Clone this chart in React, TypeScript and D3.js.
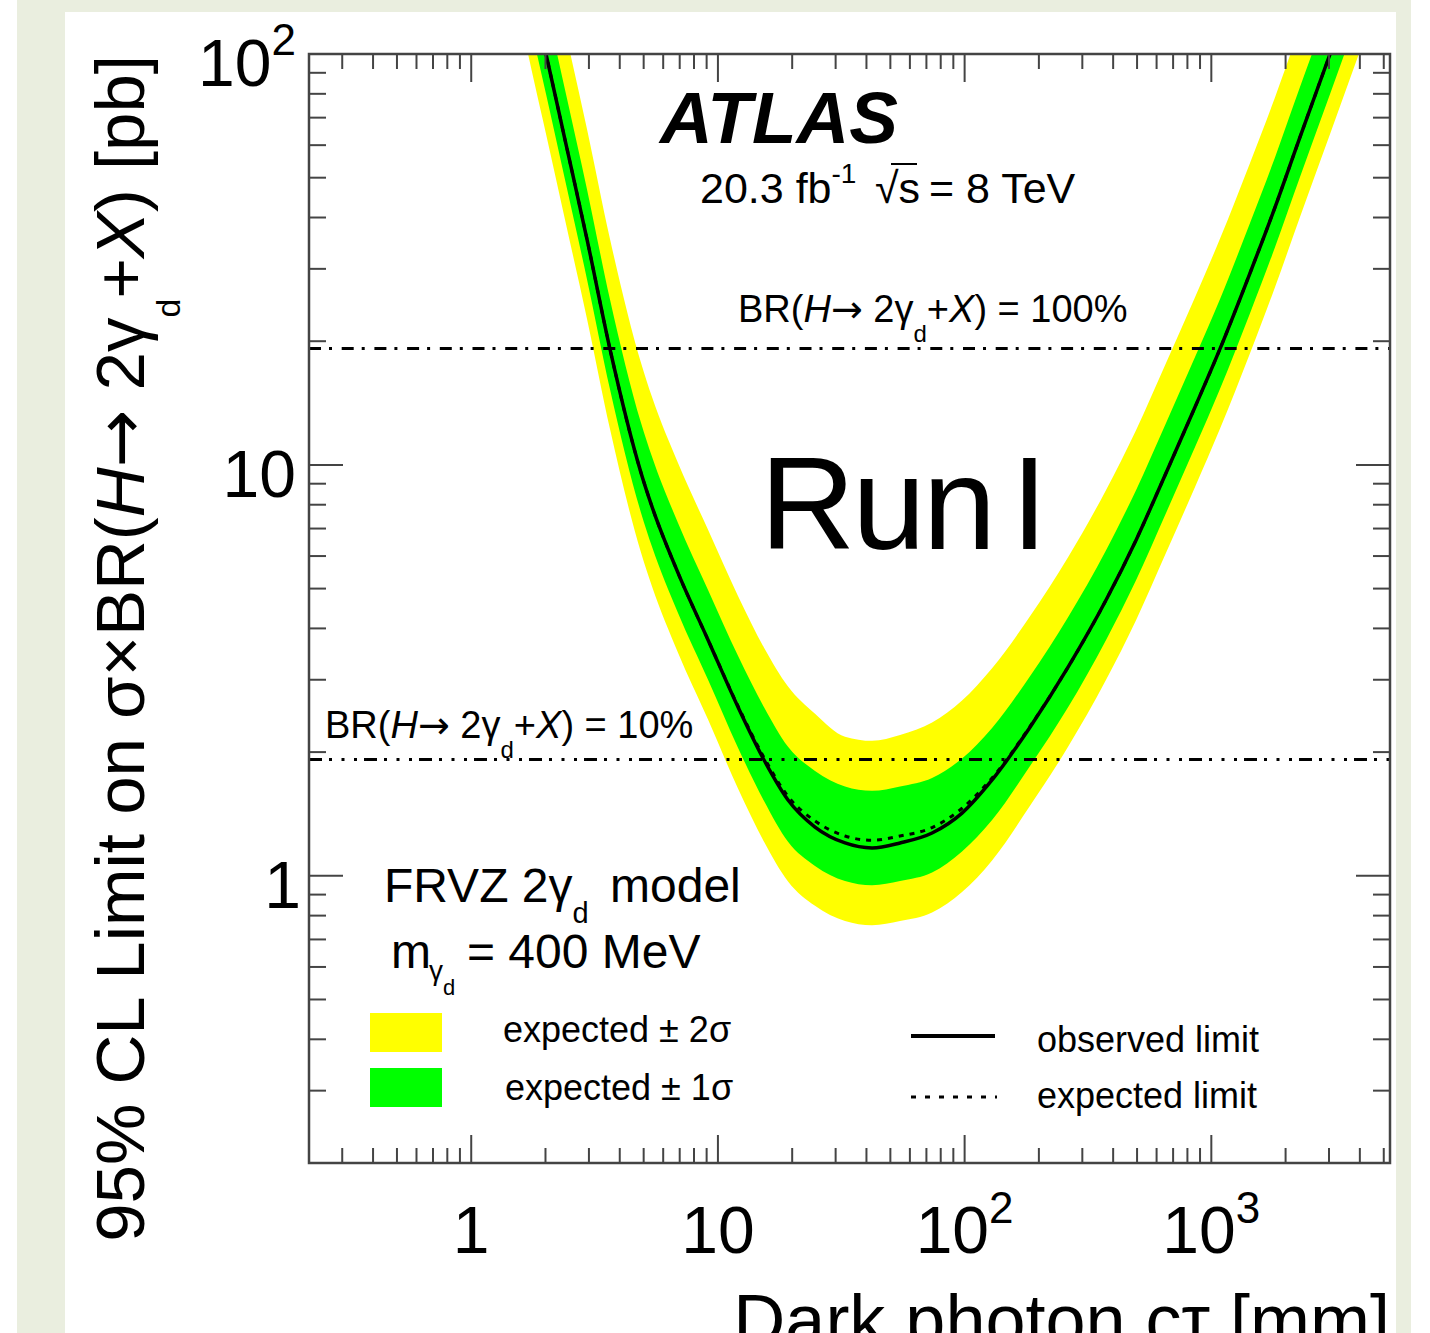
import React from 'react';
import * as d3 from 'd3';

// ---------- data ----------
const X_DOMAIN: [number, number] = [0.22, 5300]; // dark photon c*tau [mm]
const Y_DOMAIN: [number, number] = [0.2, 100]; // limit [pb]

// c*tau grid [mm]
const ctau = [
  1.6, 1.8, 2.01, 2.4, 2.95, 3.65, 4.88, 5.41, 6.89, 9.12, 12.06, 15.38, 19.24, 24.75,
  32.75, 42.14, 54.73, 73.8, 97.6, 129.2, 184.1, 262.6, 374.4, 495.2, 655.3, 859, 1084,
  1435, 1813, 2267, 3029, 3800, 4600, 5300,
];

// observed 95% CL limit [pb]
const observed = [
  185, 134, 100, 61.8, 35.3, 19.15, 9.56, 7.9, 5.46, 3.75, 2.575, 1.913, 1.529, 1.314,
  1.202, 1.169, 1.202, 1.271, 1.421, 1.711, 2.3, 3.22, 4.69, 6.56, 9.56, 13.83, 19.15,
  29.3, 42.4, 61.8, 100, 146, 200, 254,
];

// expected limit [pb]
const expected = [
  185, 134, 100, 61.8, 35.3, 19.15, 9.56, 7.9, 5.46, 3.75, 2.59, 1.94, 1.56, 1.36,
  1.25, 1.22, 1.25, 1.31, 1.46, 1.73, 2.31, 3.22, 4.69, 6.56, 9.56, 13.83, 19.15,
  29.3, 42.4, 61.8, 100, 146, 200, 254,
];

// expected +2 sigma
const plus2 = [
  342.6, 248.2, 185.2, 114.5, 65.4, 35.5, 17.7, 14.6, 10.1, 6.95, 4.8, 3.59, 2.89, 2.48,
  2.18, 2.13, 2.2, 2.36, 2.67, 3.2, 4.28, 5.96, 8.69, 12.15, 17.7, 25.6, 35.5,
  54.3, 78.5, 114.5, 185.2, 270, 370, 470,
];

// expected +1 sigma
const plus1 = [
  244.8, 177.3, 132.3, 81.8, 46.7, 25.3, 12.65, 10.45, 7.22, 4.96, 3.43, 2.57, 2.06, 1.8,
  1.65, 1.61, 1.65, 1.73, 1.93, 2.29, 3.06, 4.26, 6.2, 8.68, 12.65, 18.3, 25.3,
  38.8, 56.1, 81.8, 132.3, 193, 265, 336,
];

// expected -1 sigma
const minus1 = [
  147.8, 107.1, 79.9, 49.4, 28.2, 15.3, 7.64, 6.31, 4.36, 3.0, 2.05, 1.52, 1.21, 1.057,
  0.971, 0.948, 0.971, 1.018, 1.146, 1.367, 1.85, 2.57, 3.75, 5.24, 7.64, 11.05, 15.3,
  23.4, 33.9, 49.4, 79.9, 116.7, 159.8, 203,
];

// expected -2 sigma
const minus2 = [
  118.2, 85.6, 63.9, 39.5, 22.6, 12.24, 6.11, 5.05, 3.49, 2.4, 1.63, 1.21, 0.969, 0.845,
  0.776, 0.758, 0.776, 0.814, 0.913, 1.09, 1.48, 2.06, 3.0, 4.19, 6.11, 8.84, 12.24,
  18.7, 27.1, 39.5, 63.9, 93.3, 127.8, 162,
];

// reference cross-section lines: sigma(H) x BR
const brLines = [
  { value: 19.2, pct: '100%', dash: '12,8,3,9.7' },
  { value: 1.92, pct: '10%', dash: '13,7,3,9.5,3,9.5,3,7' },
];

const xTickLabels = [
  { v: 1, base: '1', exp: '' },
  { v: 10, base: '10', exp: '' },
  { v: 100, base: '10', exp: '2' },
  { v: 1000, base: '10', exp: '3' },
];
const yTickLabels = [
  { v: 1, base: '1', exp: '' },
  { v: 10, base: '10', exp: '' },
  { v: 100, base: '10', exp: '2' },
];

// ---------- layout ----------
const W = 1430;
const H = 1333;
const L = 309, R = 1390, T = 54, B = 1163;
const FONT = "'Liberation Sans', Arial, Helvetica, sans-serif";
const ARROW_FONT = "'DejaVu Sans', sans-serif";
const YELLOW = '#ffff00';
const GREEN = '#00ff00';
const AXIS = '#444';

export default function App() {
  const x = d3.scaleLog().domain(X_DOMAIN).range([L, R]);
  const y = d3.scaleLog().domain(Y_DOMAIN).range([B, T]);

  const idx = ctau.map((_, i) => i);
  const lineOf = (vals: number[]) =>
    d3
      .line<number>()
      .x((i) => x(ctau[i]))
      .y((i) => y(vals[i]))
      .curve(d3.curveMonotoneX)(idx) || '';
  const areaOf = (lo: number[], up: number[]) =>
    d3
      .area<number>()
      .x((i) => x(ctau[i]))
      .y0((i) => y(lo[i]))
      .y1((i) => y(up[i]))
      .curve(d3.curveMonotoneX)(idx) || '';

  const isMajor = (v: number) => Math.abs(Math.log10(v) - Math.round(Math.log10(v))) < 1e-6;
  const xTicks = x.ticks();
  const yTicks = y.ticks();

  const arrow = <tspan fontFamily={ARROW_FONT}>→</tspan>;

  return (
    <svg
      width={W}
      height={H}
      viewBox={`0 0 ${W} ${H}`}
      style={{ position: 'absolute', left: 0, top: 0, fontFamily: FONT }}
    >
      <defs>
        <clipPath id="frame">
          <rect x={L} y={T} width={R - L} height={B - T} />
        </clipPath>
      </defs>
      {/* page backgrounds */}
      <rect x={0} y={0} width={W} height={H} fill="#ffffff" />
      <rect x={17} y={0} width={1394} height={H} fill="#eaeedf" />
      <rect x={65} y={12} width={1331} height={H - 12} fill="#ffffff" />

      {/* bands and curves */}
      <g clipPath="url(#frame)">
        <path d={areaOf(minus2, plus2)} fill={YELLOW} stroke="none" />
        <path d={areaOf(minus1, plus1)} fill={GREEN} stroke="none" />
        {brLines.map((b) => (
          <line
            key={b.pct}
            x1={L}
            x2={R}
            y1={y(b.value)}
            y2={y(b.value)}
            stroke="#000"
            strokeWidth={3}
            strokeDasharray={b.dash}
          />
        ))}
        <path d={lineOf(expected)} fill="none" stroke="#000" strokeWidth={3} strokeDasharray="5,6" />
        <path d={lineOf(observed)} fill="none" stroke="#000" strokeWidth={3.5} />
      </g>

      {/* frame */}
      <rect x={L} y={T} width={R - L} height={B - T} fill="none" stroke={AXIS} strokeWidth={2.5} />

      {/* ticks */}
      <g stroke={AXIS} strokeWidth={2}>
        {xTicks.map((v, i) => {
          const len = isMajor(v) ? 28 : 15;
          const px = x(v);
          return (
            <g key={'xt' + i}>
              <line x1={px} x2={px} y1={B} y2={B - len} />
              <line x1={px} x2={px} y1={T} y2={T + len} />
            </g>
          );
        })}
        {yTicks.map((v, i) => {
          const len = isMajor(v) ? 34 : 17;
          const py = y(v);
          return (
            <g key={'yt' + i}>
              <line x1={L} x2={L + len} y1={py} y2={py} />
              <line x1={R} x2={R - len} y1={py} y2={py} />
            </g>
          );
        })}
      </g>

      {/* tick labels */}
      <g fill="#000" fontSize={66}>
        {xTickLabels.map((t) => (
          <text key={'xl' + t.v} x={x(t.v)} y={1253} textAnchor="middle">
            {t.base}
            {t.exp && (
              <tspan dy={-30} fontSize={44}>
                {t.exp}
              </tspan>
            )}
          </text>
        ))}
        {yTickLabels.map((t) => (
          <text
            key={'yl' + t.v}
            x={t.base === '1' ? 301 : 296}
            y={y(t.v) + 32}
            textAnchor="end"
          >
            {t.base}
            {t.exp && (
              <tspan dy={-31} fontSize={44}>
                {t.exp}
              </tspan>
            )}
          </text>
        ))}
      </g>

      {/* axis titles */}
      <text
        transform="translate(144,55) rotate(-90)"
        textAnchor="end"
        fontSize={69}
        fill="#000"
      >
        95% CL Limit on σ×BR(<tspan fontStyle="italic">H</tspan>
        {arrow} 2γ
        <tspan dy={36} fontSize={34}>d</tspan>
        <tspan dy={-36}>+</tspan>
        <tspan fontStyle="italic">X</tspan>) [pb]
      </text>
      <text x={1390} y={1345} textAnchor="end" fontSize={72} fill="#000">
        Dark photon cτ [mm]
      </text>

      {/* ATLAS label */}
      <text x={660} y={143} fontSize={73} fontWeight="bold" fontStyle="italic" fill="#000">
        ATLAS
      </text>
      <text y={203} fontSize={43} fill="#000">
        <tspan x={700}>20.3 fb</tspan>
        <tspan dy={-20} fontSize={28}>-1</tspan>
        <tspan x={875} dy={20}>√s</tspan>
        <tspan x={929}>= 8 TeV</tspan>
      </text>
      <line x1={891} x2={917} y1={164} y2={164} stroke="#000" strokeWidth={2} />

      {/* BR line labels */}
      {[
        { x0: 738, y0: 322, b: brLines[0] },
        { x0: 325, y0: 738, b: brLines[1] },
      ].map((o) => (
        <text key={o.b.pct} x={o.x0} y={o.y0} fontSize={38} fill="#000">
          BR(<tspan fontStyle="italic">H</tspan>
          {arrow} 2γ
          <tspan dy={20} fontSize={24}>d</tspan>
          <tspan dy={-20}>+</tspan>
          <tspan fontStyle="italic">X</tspan>) = {o.b.pct}
        </text>
      ))}

      {/* Run I */}
      <text x={760} y={549} fontSize={132} letterSpacing={-3} fill="#000">
        Run
      </text>
      <text x={1011} y={549} fontSize={132} fill="#000">
        I
      </text>

      {/* model text */}
      <text y={902} fontSize={48} fill="#000">
        <tspan x={384}>FRVZ 2γ</tspan>
        <tspan dy={21} fontSize={29}>d</tspan>
        <tspan x={610} dy={-21}>model</tspan>
      </text>
      <text y={968} fontSize={48} fill="#000">
        <tspan x={391}>m</tspan>
        <tspan x={429} dy={12} fontSize={28}>γ</tspan>
        <tspan dy={15} fontSize={22}>d</tspan>
        <tspan x={467} dy={-27}>= 400 MeV</tspan>
      </text>

      {/* legend */}
      <rect x={370} y={1013} width={72} height={39} fill={YELLOW} />
      <rect x={370} y={1068} width={72} height={39} fill={GREEN} />
      <text x={503} y={1042} fontSize={36} fill="#000">expected ± 2σ</text>
      <text x={505} y={1100} fontSize={36} fill="#000">expected ± 1σ</text>
      <line x1={911} x2={995} y1={1036} y2={1036} stroke="#000" strokeWidth={4} />
      <line x1={911} x2={997} y1={1097} y2={1097} stroke="#000" strokeWidth={3} strokeDasharray="5,9" />
      <text x={1037} y={1052} fontSize={36} fill="#000">observed limit</text>
      <text x={1037} y={1108} fontSize={36} fill="#000">expected limit</text>
    </svg>
  );
}
